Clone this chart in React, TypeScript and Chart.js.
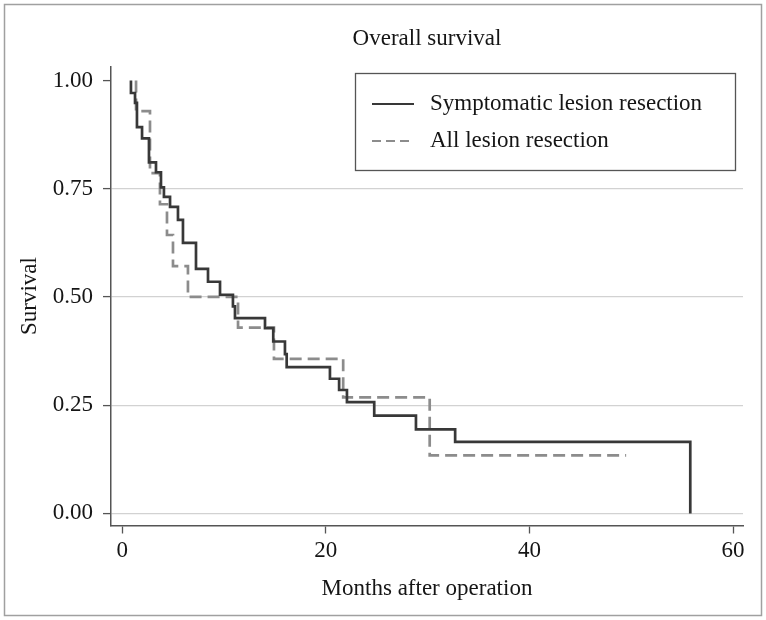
import React, { useEffect, useRef } from 'react';
import { Chart, registerables } from 'chart.js';

Chart.register(...registerables);

// ---- Data ----
const chartTitle = 'Overall survival';
const xAxisTitle = 'Months after operation';
const yAxisTitle = 'Survival';
const seriesLabels = ['Symptomatic lesion resection', 'All lesion resection'];

const symptomaticMonths = [
  0.85, 0.85, 1.25, 1.44, 1.94, 2.62, 3.31, 3.8, 4.09, 4.69, 5.47, 5.96, 7.24, 8.42,
  9.6, 10.87, 11.07, 14.02, 14.83, 15.98, 16.15, 20.4, 21.3, 22.07, 24.75, 28.85, 32.7, 55.8,
];
const symptomaticSurvival = [
  1.0, 0.971, 0.948, 0.892, 0.866, 0.811, 0.788, 0.753, 0.731, 0.708, 0.678, 0.625, 0.565, 0.535,
  0.505, 0.478, 0.451, 0.428, 0.397, 0.368, 0.338, 0.311, 0.285, 0.257, 0.226, 0.194, 0.165, 0.0,
];

const allLesionMonths = [1.35, 1.35, 2.72, 3.7, 4.39, 4.98, 6.45, 11.37, 14.9, 21.7, 30.2, 49.5];
const allLesionSurvival = [1.0, 0.929, 0.786, 0.714, 0.643, 0.571, 0.5, 0.429, 0.357, 0.268, 0.134, 0.134];

const xTickValues = [0, 20, 40, 60];
const yTickValues = [0, 0.25, 0.5, 0.75, 1];

// ---- Styling ----
const FONT = '"Liberation Serif", "Times New Roman", serif';
const FONT_SIZE = 23;
const TEXT = '#151515';
const AXIS = '#555555';
const GRID = '#d2d2d2';
const SOLID = '#383838';
const DASHED = '#8c8c8c';

const toPoints = (xs: number[], ys: number[]) => xs.map((x, i) => ({ x, y: ys[i] }));

const framePlugin = {
  id: 'outerFrame',
  beforeDraw(chart: any) {
    const { ctx, width, height } = chart;
    ctx.save();
    ctx.fillStyle = '#ffffff';
    ctx.fillRect(0, 0, width, height);
    ctx.strokeStyle = '#a0a0a0';
    ctx.lineWidth = 1.5;
    ctx.strokeRect(4.5, 4.5, width - 9, height - 9);
    ctx.restore();
  },
};

const legendPlugin = {
  id: 'boxedLegend',
  afterDatasetsDraw(chart: any) {
    const { ctx } = chart;
    ctx.save();
    ctx.strokeStyle = AXIS;
    ctx.lineWidth = 1.3;
    ctx.setLineDash([]);
    ctx.strokeRect(355.5, 73.5, 380, 97);
    chart.data.datasets.forEach((ds: any, i: number) => {
      const y = 104 + i * 37;
      ctx.strokeStyle = ds.borderColor;
      ctx.lineWidth = 2;
      ctx.setLineDash(i === 0 ? [] : [9, 5]);
      ctx.beginPath();
      ctx.moveTo(372, y);
      ctx.lineTo(414, y);
      ctx.stroke();
      ctx.setLineDash([]);
      ctx.fillStyle = TEXT;
      ctx.font = `${FONT_SIZE}px ${FONT}`;
      ctx.textAlign = 'left';
      ctx.textBaseline = 'middle';
      ctx.fillText(ds.label, 430, y);
    });
    ctx.restore();
  },
};

export default function App() {
  const canvasRef = useRef<HTMLCanvasElement | null>(null);

  useEffect(() => {
    const canvas = canvasRef.current;
    if (!canvas) return;
    const chart = new Chart(canvas, {
      type: 'scatter',
      data: {
        datasets: [
          {
            label: seriesLabels[0],
            data: toPoints(symptomaticMonths, symptomaticSurvival),
            showLine: true,
            stepped: 'before',
            borderColor: SOLID,
            borderWidth: 2.7,
            pointRadius: 0,
            fill: false,
            order: 0,
          },
          {
            label: seriesLabels[1],
            data: toPoints(allLesionMonths, allLesionSurvival),
            showLine: true,
            stepped: 'before',
            borderColor: DASHED,
            borderWidth: 2.7,
            borderDash: [12, 6],
            pointRadius: 0,
            fill: false,
            order: 1,
          },
        ],
      } as any,
      options: {
        responsive: false,
        animation: false,
        devicePixelRatio: 1,
        layout: { padding: { left: 0, right: 23, top: 0, bottom: 0 } },
        plugins: {
          legend: { display: false },
          tooltip: { enabled: false },
          title: {
            display: true,
            text: chartTitle,
            fullSize: false,
            color: TEXT,
            font: { family: FONT, size: FONT_SIZE, weight: 'normal' },
            padding: { top: 25, bottom: 14 },
          },
        },
        scales: {
          x: {
            type: 'linear',
            min: -1.11,
            max: 60.98,
            afterBuildTicks: (scale: any) => {
              scale.ticks = xTickValues.map((v) => ({ value: v }));
            },
            afterFit: (scale: any) => {
              scale.height = 94.5;
            },
            ticks: {
              color: TEXT,
              font: { family: FONT, size: FONT_SIZE },
              padding: 4,
              maxRotation: 0,
              callback: (v: any) => String(v),
            },
            grid: { drawOnChartArea: false, drawTicks: true, tickLength: 8, tickColor: AXIS, tickWidth: 1.3 },
            border: { display: true, color: AXIS, width: 1.5 },
            title: {
              display: true,
              text: xAxisTitle,
              color: TEXT,
              font: { family: FONT, size: FONT_SIZE },
              padding: { top: 0, bottom: 17 },
            },
          },
          y: {
            type: 'linear',
            min: -0.028,
            max: 1.032,
            afterBuildTicks: (scale: any) => {
              scale.ticks = yTickValues.map((v) => ({ value: v }));
            },
            afterFit: (scale: any) => {
              scale.width = 111;
            },
            ticks: {
              color: TEXT,
              font: { family: FONT, size: FONT_SIZE },
              padding: 10,
              callback: (v: any) => Number(v).toFixed(2),
            },
            grid: {
              color: (ctx: any) => (ctx.tick && ctx.tick.value === 1 ? 'rgba(0,0,0,0)' : GRID),
              lineWidth: 1.2,
              drawTicks: true,
              tickLength: 8,
              tickColor: AXIS,
              tickWidth: 1.3,
            },
            border: { display: true, color: AXIS, width: 1.5 },
            title: {
              display: true,
              text: yAxisTitle,
              color: TEXT,
              font: { family: FONT, size: FONT_SIZE },
              padding: { top: 16, bottom: 0 },
            },
          },
        },
      } as any,
      plugins: [framePlugin, legendPlugin],
    });
    return () => chart.destroy();
  }, []);

  return (
    <div style={{ position: 'absolute', left: 0, top: 0, width: 766, height: 620 }}>
      <canvas ref={canvasRef} width={766} height={620} style={{ display: 'block', width: 766, height: 620 }} />
    </div>
  );
}
